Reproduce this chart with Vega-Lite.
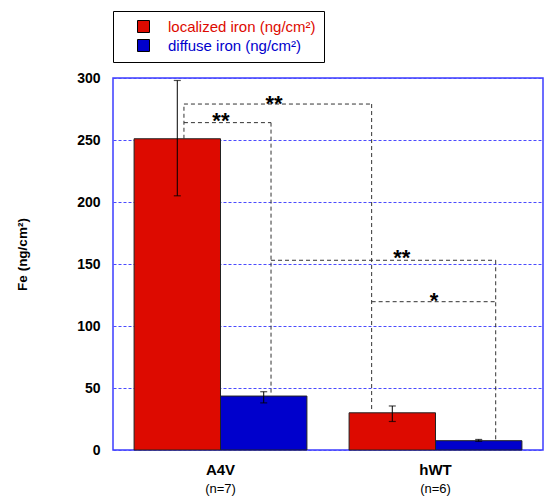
{
  "$schema": "https://vega.github.io/schema/vega-lite/v6.json",
  "width": 430,
  "height": 372,
  "autosize": "none",
  "padding": {"left": 113, "top": 78, "right": 2, "bottom": 50},
  "config": {
    "font": "Liberation Sans",
    "view": {"stroke": "#3c3cff", "strokeWidth": 1.5},
    "legend": {
      "orient": "none",
      "legendX": 0,
      "legendY": -67,
      "title": null,
      "strokeColor": "black",
      "fillColor": "white",
      "padding": 8,
      "symbolType": "square",
      "symbolSize": 144,
      "symbolStrokeColor": "black",
      "symbolStrokeWidth": 1,
      "symbolOffset": 15,
      "labelOffset": 17,
      "labelFontSize": 15,
      "labelFont": "Liberation Sans",
      "labelLimit": 300,
      "rowPadding": 2
    }
  },
  "datasets": {
    "bars": [
      {"group": "A4V", "series": "localized iron (ng/cm²)", "value": 251, "lo": 205, "hi": 298},
      {"group": "A4V", "series": "diffuse iron (ng/cm²)", "value": 43.5, "lo": 38, "hi": 47},
      {"group": "hWT", "series": "localized iron (ng/cm²)", "value": 30, "lo": 23, "hi": 35.5},
      {"group": "hWT", "series": "diffuse iron (ng/cm²)", "value": 7.5, "lo": 7, "hi": 8.5}
    ],
    "groups": [
      {"group": "A4V", "n": "(n=7)"},
      {"group": "hWT", "n": "(n=6)"}
    ],
    "brackets": [
      {"x": 0.33, "x2": 0.33, "y": 251, "y2": 279},
      {"x": 0.33, "x2": 0.735, "y": 264, "y2": 264},
      {"x": 0.33, "x2": 1.203, "y": 279, "y2": 279},
      {"x": 0.735, "x2": 0.735, "y": 264, "y2": 46},
      {"x": 1.203, "x2": 1.203, "y": 279, "y2": 31},
      {"x": 0.735, "x2": 1.78, "y": 153, "y2": 153},
      {"x": 1.203, "x2": 1.78, "y": 119.6, "y2": 119.6},
      {"x": 1.78, "x2": 1.78, "y": 153, "y2": 7.5}
    ],
    "stars": [
      {"x": 0.502, "y": 269.6, "label": "**"},
      {"x": 0.749, "y": 283.6, "label": "**"},
      {"x": 1.343, "y": 159, "label": "**"},
      {"x": 1.493, "y": 125, "label": "*"}
    ]
  },
  "layer": [
    {
      "layer": [
        {
          "data": {"name": "bars"},
          "mark": {"type": "bar", "stroke": "#222222", "strokeWidth": 1},
          "encoding": {
            "x": {
              "field": "group", "type": "nominal",
              "scale": {"paddingInner": 0, "paddingOuter": 0},
              "axis": {"title": null, "labelAngle": 0, "labelFontWeight": "bold", "labelFontSize": 15, "labelColor": "black", "labelPadding": 12, "ticks": false, "domain": false, "grid": false}
            },
            "xOffset": {
              "field": "series", "type": "nominal",
              "sort": ["localized iron (ng/cm²)", "diffuse iron (ng/cm²)"],
              "scale": {"paddingInner": 0, "paddingOuter": 0.244}
            },
            "y": {
              "field": "value", "type": "quantitative",
              "scale": {"domain": [0, 300], "nice": false},
              "axis": {
                "title": "Fe (ng/cm²)", "titleFontWeight": "bold", "titleFontSize": 13.5, "titleColor": "black",
                "titleX": -91, "titleY": 176, "titleAlign": "center", "titleBaseline": "middle", "titleAngle": -90,
                "values": [0, 50, 100, 150, 200, 250, 300],
                "labelFontWeight": "bold", "labelFontSize": 14, "labelColor": "black", "labelPadding": 13,
                "ticks": false, "domain": false,
                "grid": true, "gridColor": "#4a4aff", "gridDash": [3, 2], "gridWidth": 1
              }
            },
            "color": {
              "field": "series", "type": "nominal",
              "sort": ["localized iron (ng/cm²)", "diffuse iron (ng/cm²)"],
              "scale": {"range": ["#dd0a00", "#0000cc"]},
              "legend": {
                "labelColor": {"expr": "datum.label == 'diffuse iron (ng/cm²)' ? '#0000cc' : '#dd0a00'"}
              }
            }
          }
        },
        {
          "data": {"name": "bars"},
          "mark": {"type": "rule", "color": "black", "strokeWidth": 1},
          "encoding": {
            "x": {"field": "group", "type": "nominal"},
            "xOffset": {"field": "series", "type": "nominal", "sort": ["localized iron (ng/cm²)", "diffuse iron (ng/cm²)"]},
            "y": {"field": "lo", "type": "quantitative"},
            "y2": {"field": "hi"}
          }
        },
        {
          "data": {"name": "bars"},
          "mark": {"type": "tick", "color": "black", "size": 7, "thickness": 1.2},
          "encoding": {
            "x": {"field": "group", "type": "nominal"},
            "xOffset": {"field": "series", "type": "nominal", "sort": ["localized iron (ng/cm²)", "diffuse iron (ng/cm²)"]},
            "y": {"field": "lo", "type": "quantitative"}
          }
        },
        {
          "data": {"name": "bars"},
          "mark": {"type": "tick", "color": "black", "size": 7, "thickness": 1.2},
          "encoding": {
            "x": {"field": "group", "type": "nominal"},
            "xOffset": {"field": "series", "type": "nominal", "sort": ["localized iron (ng/cm²)", "diffuse iron (ng/cm²)"]},
            "y": {"field": "hi", "type": "quantitative"}
          }
        },
        {
          "data": {"name": "groups"},
          "mark": {"type": "text", "fontSize": 13, "color": "black", "dy": 39, "baseline": "middle"},
          "encoding": {
            "x": {"field": "group", "type": "nominal"},
            "y": {"datum": 0},
            "text": {"field": "n"}
          }
        }
      ]
    },
    {
      "layer": [
        {
          "mark": {"type": "rule", "color": "#3c3cff", "strokeDash": [3, 2], "strokeWidth": 1},
          "encoding": {
            "x": {"datum": 1, "type": "quantitative", "scale": {"domain": [0, 2], "nice": false}, "axis": null}
          }
        },
        {
          "data": {"name": "brackets"},
          "mark": {"type": "rule", "color": "#333333", "strokeDash": [4, 3], "strokeWidth": 1},
          "encoding": {
            "x": {"field": "x", "type": "quantitative", "scale": {"domain": [0, 2], "nice": false}, "axis": null},
            "x2": {"field": "x2"},
            "y": {"field": "y", "type": "quantitative"},
            "y2": {"field": "y2"}
          }
        },
        {
          "data": {"name": "stars"},
          "mark": {"type": "text", "fontSize": 22, "fontWeight": "bold", "color": "black", "baseline": "alphabetic", "dy": 12.5},
          "encoding": {
            "x": {"field": "x", "type": "quantitative", "scale": {"domain": [0, 2], "nice": false}, "axis": null},
            "y": {"field": "y", "type": "quantitative"},
            "text": {"field": "label"}
          }
        }
      ]
    }
  ],
  "resolve": {"scale": {"x": "independent"}}
}
